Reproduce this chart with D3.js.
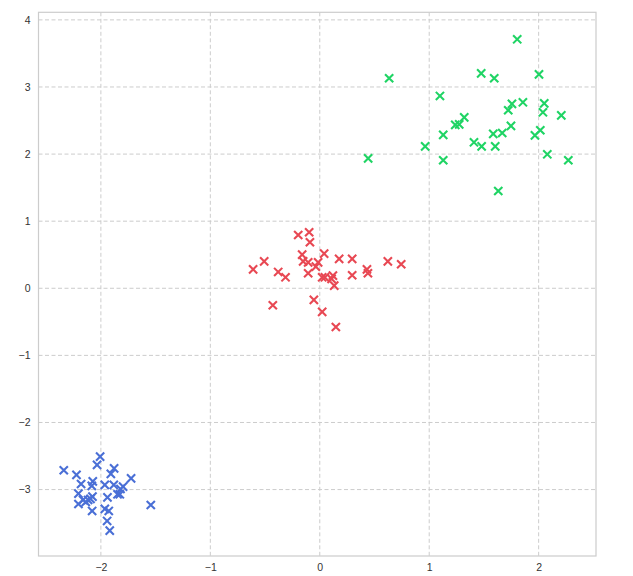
<!DOCTYPE html>
<html><head><meta charset="utf-8">
<script src="https://cdn.jsdelivr.net/npm/d3@7"></script>
<style>body{margin:0;background:#fff;}</style>
</head><body>
<svg id="c" width="633" height="576"></svg>
<script>
const blueX=[-2.007,-2.035,-2.339,-2.223,-1.879,-1.909,-1.724,-2.181,-2.074,-2.083,-1.964,-1.882,-1.797,-1.821,-1.848,-2.205,-1.940,-2.077,-2.117,-2.163,-2.095,-2.205,-2.138,-1.827,-1.544,-2.080,-1.964,-1.928,-1.943,-1.919];
const blueY=[-2.510,-2.633,-2.712,-2.782,-2.683,-2.767,-2.832,-2.917,-2.877,-2.946,-2.931,-2.931,-2.957,-2.991,-3.070,-3.061,-3.115,-3.106,-3.155,-3.155,-3.140,-3.215,-3.185,-3.070,-3.230,-3.319,-3.289,-3.319,-3.468,-3.612];
const redX=[-0.197,-0.097,-0.090,0.040,-0.161,-0.152,-0.106,-0.015,-0.036,0.177,0.296,0.622,0.744,-0.508,-0.609,-0.380,-0.313,-0.106,0.296,0.431,0.440,0.022,0.047,0.108,0.120,0.132,-0.054,-0.429,0.022,0.147];
const redY=[0.794,0.835,0.686,0.516,0.501,0.402,0.387,0.387,0.322,0.437,0.437,0.402,0.358,0.402,0.283,0.243,0.164,0.224,0.194,0.283,0.224,0.164,0.164,0.139,0.188,0.039,-0.174,-0.253,-0.353,-0.577];
const greenX=[1.804,0.634,1.475,1.594,2.003,1.098,1.756,1.856,1.722,2.051,2.039,2.207,1.320,1.238,1.274,1.128,1.747,1.667,1.585,2.015,1.966,1.409,1.479,1.603,0.963,0.442,1.128,2.079,2.271,1.631];
const greenY=[3.711,3.130,3.204,3.130,3.189,2.866,2.747,2.772,2.653,2.757,2.623,2.578,2.548,2.434,2.444,2.285,2.419,2.314,2.300,2.355,2.280,2.176,2.116,2.116,2.116,1.937,1.908,1.997,1.908,1.450];
const xTicks=[-2,-1,0,1,2];
const yTicks=[-3,-2,-1,0,1,2,3,4];
const seriesColors=["#4a6fd6","#e84853","#1fd464"];

const svg=d3.select("#c");
const L=38.5,R=596,T=12.3,B=556;
const x=d3.scaleLinear().domain([-2.57,2.524]).range([L,R]);
const y=d3.scaleLinear().domain([-3.99,4.113]).range([B,T]);

const fmt=d=>d<0?"\u2212"+Math.abs(d):String(d);
svg.append("g").selectAll("line").data(xTicks).join("line")
  .attr("x1",d=>x(d)).attr("x2",d=>x(d)).attr("y1",T).attr("y2",B)
  .attr("stroke","#cccccc").attr("stroke-width",1).attr("stroke-dasharray","4,2.5");
svg.append("g").selectAll("line").data(yTicks).join("line")
  .attr("y1",d=>y(d)).attr("y2",d=>y(d)).attr("x1",L).attr("x2",R)
  .attr("stroke","#cccccc").attr("stroke-width",1).attr("stroke-dasharray","4,2.5");
svg.append("rect").attr("x",L).attr("y",T).attr("width",R-L).attr("height",B-T)
  .attr("fill","none").attr("stroke","#cccccc").attr("stroke-width",1.2);
const xa=svg.append("g").attr("transform",`translate(0,${B})`)
  .call(d3.axisBottom(x).tickValues(xTicks).tickFormat(fmt).tickSize(0).tickPadding(8));
const ya=svg.append("g").attr("transform",`translate(${L},0)`)
  .call(d3.axisLeft(y).tickValues(yTicks).tickFormat(fmt).tickSize(0).tickPadding(8));
[xa,ya].forEach(a=>{a.select(".domain").remove();
  a.selectAll("text").attr("fill","#333333").style("font-family","'Liberation Sans', Arial, sans-serif").style("font-size","10.5px");});

const series=[[blueX,blueY],[redX,redY],[greenX,greenY]];
const s=4.1;
series.forEach(([xs,ys],i)=>{
  const g=svg.append("g").attr("stroke",seriesColors[i]).attr("stroke-width",2.1).attr("stroke-linecap","butt");
  const pts=xs.map((v,j)=>[v,ys[j]]);
  g.selectAll("path").data(pts).join("path")
    .attr("d",d=>{const cx=x(d[0]),cy=y(d[1]);
      return `M${cx-s},${cy-s}L${cx+s},${cy+s}M${cx-s},${cy+s}L${cx+s},${cy-s}`;})
    .attr("fill","none");
});
</script>
</body></html>
